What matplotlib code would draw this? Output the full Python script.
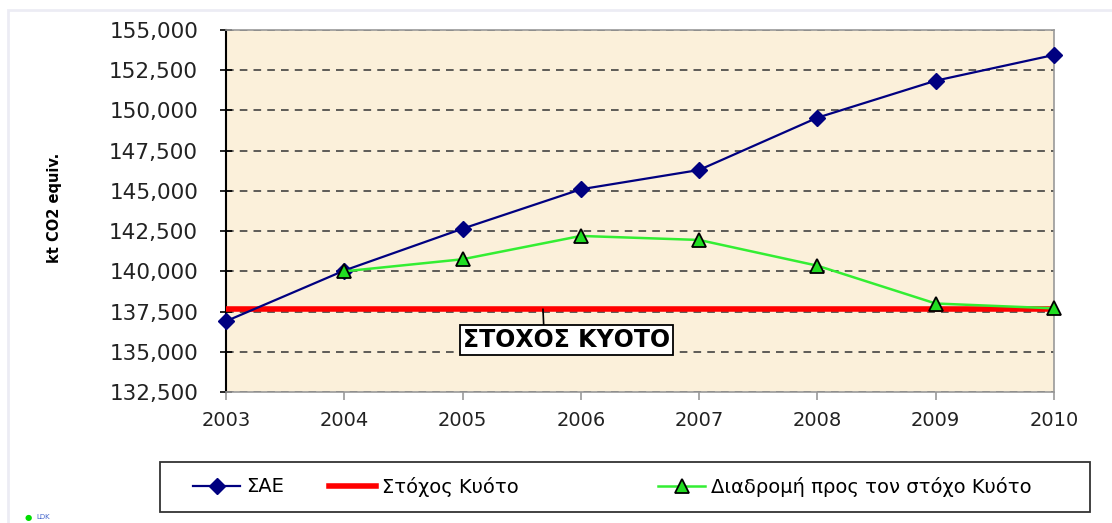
import numpy as np
import matplotlib.pyplot as plt
from matplotlib.patches import Rectangle
from matplotlib.ticker import FuncFormatter

years = [2003, 2004, 2005, 2006, 2007, 2008, 2009, 2010]
sae = [136900, 140050, 142650, 145100, 146300, 149550, 151850, 153450]
route_years = [2004, 2005, 2006, 2007, 2008, 2009, 2010]
route = [140000, 140750, 142200, 141950, 140350, 138000, 137700]
kyoto_target = 137650

LABELS = ['ΣΑΕ', 'Στόχος Κυότο', 'Διαδρομή προς τον στόχο Κυότο']

fig = plt.figure(figsize=(11.12, 5.23), dpi=100)
ax = fig.add_axes([0.2032, 0.2505, 0.7446, 0.6921])
ax.set_facecolor('#FBF0DA')

# faint frame of the screenshot
fig.patches.append(Rectangle((0.007, -0.1), 1.1, 1.081, transform=fig.transFigure,
                             fill=False, edgecolor='#ECECF4', lw=2))

l_sae, = ax.plot(years, sae, color='#000080', lw=1.6, marker='D', ms=8,
                 mfc='#000080', mec='#000080', zorder=4, clip_on=False)
l_kyoto = ax.axhline(kyoto_target, color='#FF0000', lw=4, zorder=3)
l_route, = ax.plot(route_years, route, color='#33EE33', lw=1.8, marker='^', ms=10,
                   mfc='#22DD22', mec='black', mew=1.3, zorder=5, clip_on=False)

ax.set_xlim(2003, 2010)
ax.set_ylim(132500, 155000)
ax.set_yticks(np.arange(132500, 155001, 2500))
ax.set_xticks(years)
ax.yaxis.set_major_formatter(FuncFormatter(lambda v, p: '{:,.0f}'.format(v)))
ax.grid(axis='y', color='#333333', ls=(0, (5, 4)), lw=1.1)
ax.set_axisbelow(True)

for s in ['top', 'right']:
    ax.spines[s].set_color('#999999')
    ax.spines[s].set_linewidth(1.2)
ax.spines['left'].set_linewidth(1.5)
ax.spines['bottom'].set_linewidth(1.2)
ax.spines['bottom'].set_color('#999999')

ax.tick_params(axis='y', labelsize=15.5, direction='inout', length=8, width=1.2,
               labelcolor='#222222', pad=16)
ax.tick_params(axis='x', labelsize=14, direction='out', length=6, width=1.2,
               colors='#999999', labelcolor='#222222', pad=8)

ax.set_ylabel('kt CO2 equiv.', fontsize=10.5, fontweight='bold')
ax.yaxis.set_label_coords(-0.198, 0.508)

ax.annotate('ΣΤΟΧΟΣ ΚΥΟΤΟ', xy=(2005.68, kyoto_target), xytext=(2005.88, 135720),
            ha='center', va='center', fontsize=17, fontweight='bold',
            bbox=dict(boxstyle='square,pad=0.12', fc='white', ec='black', lw=1.3),
            arrowprops=dict(arrowstyle='-', color='black', lw=1.2, shrinkA=0, shrinkB=0,
                            relpos=(0.39, 1.0)),
            zorder=6)

# legend frame and three entries placed like the original
fig.patches.append(Rectangle((0.1439, 0.021), 0.8363, 0.0956, transform=fig.transFigure,
                             fill=False, edgecolor='#333333', lw=1.3))
entries = [(l_sae, LABELS[0], 0.174), (l_kyoto, LABELS[1], 0.296),
           (l_route, LABELS[2], 0.592)]
for handle, label, x0 in entries:
    fig.legend([handle], [label], loc='center left', bbox_to_anchor=(x0, 0.069),
               frameon=False, fontsize=14, handlelength=2.4, handletextpad=0.3,
               borderaxespad=0, borderpad=0)

fig.text(0.022, 0.006, '\u25cf', color='#00DD00', fontsize=6)
fig.text(0.033, 0.008, 'LDK', color='#4466CC', fontsize=5)

fig.savefig('out.png', dpi=100)
